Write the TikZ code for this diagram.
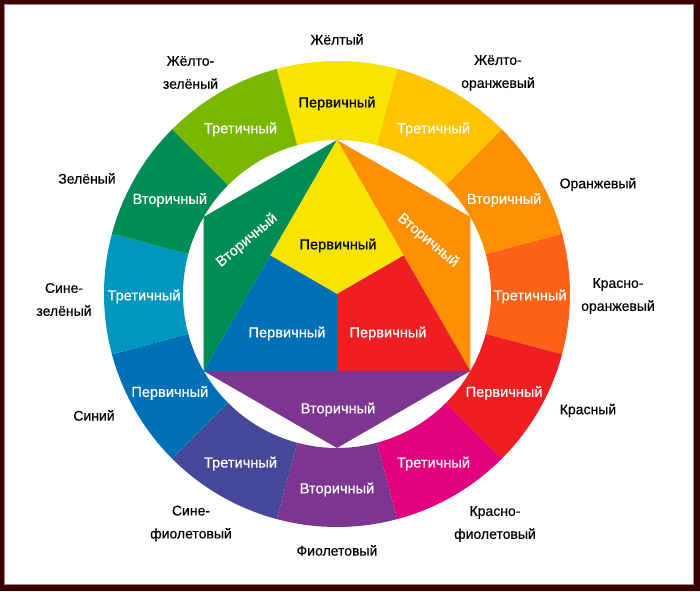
\documentclass[tikz,border=0pt]{standalone}
\usepackage{fontspec}
\setmainfont{Liberation Sans}[FakeBold=0.4]
\usetikzlibrary{calc}
\definecolor{framebrown}{RGB}{58,0,0}
\definecolor{frameline}{RGB}{165,135,135}
\definecolor{cyellow}{RGB}{247,228,0}
\definecolor{cyelloworange}{RGB}{252,197,0}
\definecolor{corange}{RGB}{252,144,0}
\definecolor{credorange}{RGB}{253,98,24}
\definecolor{cred}{RGB}{238,30,35}
\definecolor{credviolet}{RGB}{226,0,124}
\definecolor{cviolet}{RGB}{124,53,144}
\definecolor{cblueviolet}{RGB}{71,71,154}
\definecolor{cblue}{RGB}{0,112,182}
\definecolor{cbluegreen}{RGB}{0,151,191}
\definecolor{cgreen}{RGB}{0,140,85}
\definecolor{cyellowgreen}{RGB}{122,184,0}
\tikzset{
  ringtext/.style={text=white, yshift=-2.5pt, font=\fontsize{14.6}{17}\selectfont},
  nametext/.style={text=black, align=center, yshift=-1.5pt, font=\fontsize{14}{23}\selectfont},
}

\begin{document}
\begin{tikzpicture}[x=1pt, y=1pt]
    \useasboundingbox (-337,-297) rectangle (363,294);
    \fill [framebrown] (-337,-297) rectangle (363,294);
    \fill [white, draw=frameline, line width=1pt] (-332,-290) rectangle (356,289);
    % outer ring of twelve colours
    \foreach \ang/\col/\txt/\tcol in {90/cyellow/Первичный/black, 60/cyelloworange/Третичный/white,
        30/corange/Вторичный/white, 0/credorange/Третичный/white, 330/cred/Первичный/white,
        300/credviolet/Третичный/white, 270/cviolet/Вторичный/white, 240/cblueviolet/Третичный/white,
        210/cblue/Первичный/white, 180/cbluegreen/Третичный/white, 150/cgreen/Вторичный/white,
        120/cyellowgreen/Третичный/white}{
      \fill [\col] (\ang-15:154) arc [start angle=\ang-15, end angle=\ang+15, radius=154]
        -- (\ang+15:233) arc [start angle=\ang+15, end angle=\ang-15, radius=233] -- cycle;
      \node [ringtext, text=\tcol] (seg\ang) at (\ang:193) {\txt};
    }
    % hexagon corners
    \coordinate (top) at (90:154);
    \coordinate (ul) at (150:154);
    \coordinate (ll) at (210:154);
    \coordinate (bot) at (270:154);
    \coordinate (lr) at (330:154);
    \coordinate (ur) at (30:154);
    \coordinate (mid) at (0,0);
    % secondary triangles
    \fill [cgreen] (top) -- (ul) -- (ll) -- cycle;
    \fill [corange] (top) -- (ur) -- (lr) -- cycle;
    \fill [cviolet] (ll) -- (lr) -- (bot) -- cycle;
    % primary triangle
    \fill [cyellow] (top) -- ($(top)!0.5!(lr)$) -- (mid) -- ($(top)!0.5!(ll)$) -- cycle;
    \fill [cred] (lr) -- ($(lr)!0.5!(ll)$) -- (mid) -- ($(top)!0.5!(lr)$) -- cycle;
    \fill [cblue] (ll) -- ($(top)!0.5!(ll)$) -- (mid) -- ($(lr)!0.5!(ll)$) -- cycle;
    \node [ringtext, text=black] (pyellow) at (1,51) {Первичный};
    \node [ringtext] (pblue) at (-50,-37) {Первичный};
    \node [ringtext] (pred) at (51,-37) {Первичный};
    \node [ringtext] (sviolet) at (1,-113) {Вторичный};
    \node [ringtext, rotate=40] (sgreen) at (-90,56) {Вторичный};
    \node [ringtext, rotate=-40] (sorange) at (91,56) {Вторичный};
    % colour names
    \node [nametext] (nyellow) at (0,256) {Жёлтый};
    \node [nametext] (nyelloworange) at (161,222.5) {Жёлто-\\оранжевый};
    \node [nametext] (norange) at (261,111) {Оранжевый};
    \node [nametext] (nredorange) at (281,-0.5) {Красно-\\оранжевый};
    \node [nametext] (nred) at (251,-115) {Красный};
    \node [nametext] (nredviolet) at (158,-228.5) {Красно-\\фиолетовый};
    \node [nametext] (nviolet) at (0,-255) {Фиолетовый};
    \node [nametext] (nblueviolet) at (-146,-228) {Сине-\\фиолетовый};
    \node [nametext] (nblue) at (-243,-120) {Синий};
    \node [nametext] (nbluegreen) at (-273,-4) {Сине-\\зелёный};
    \node [nametext] (ngreen) at (-250,117) {Зелёный};
    \node [nametext] (nyellowgreen) at (-146.5,223) {Жёлто-\\зелёный};
  \end{tikzpicture}
\end{document}
